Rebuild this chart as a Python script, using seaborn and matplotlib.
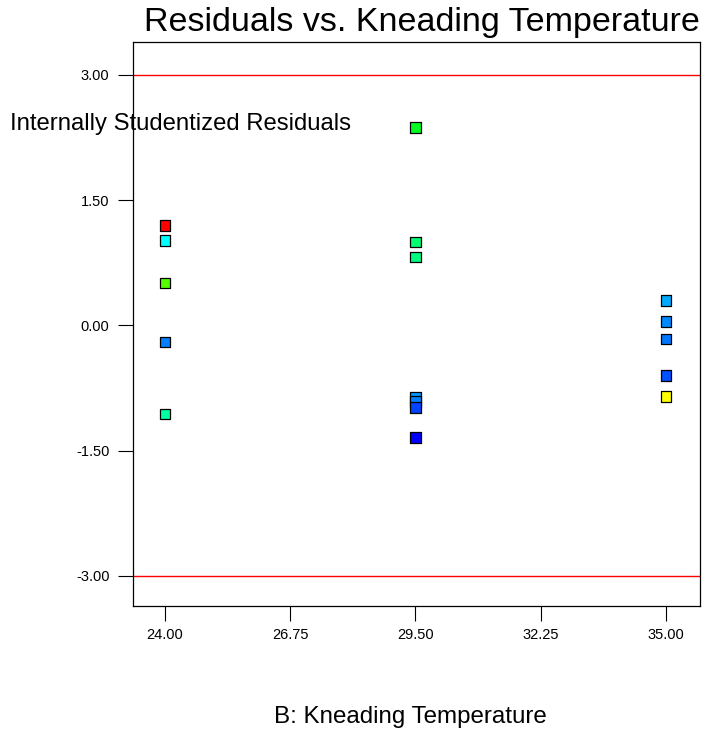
import matplotlib
matplotlib.use("Agg")
import matplotlib.pyplot as plt
import seaborn as sns
import pandas as pd

temperature = [24, 24, 24, 24, 24,
               29.5, 29.5, 29.5, 29.5, 29.5, 29.5, 29.5,
               35, 35, 35, 35, 35]
residuals = [1.20, 1.02, 0.51, -0.20, -1.06,
             2.37, 1.00, 0.82, -0.86, -0.91, -0.98, -1.34,
             0.30, 0.05, -0.16, -0.60, -0.85]
point_colors = ["#ff0000", "#00ffff", "#55ff00", "#0080ff", "#00ffa0",
                "#00ff20", "#00ff70", "#00ff80", "#0099ff", "#0080ff", "#0044ff", "#0000ff",
                "#00aaff", "#0088ff", "#0077ff", "#0050ff", "#ffff00"]
x_ticks = [24.00, 26.75, 29.50, 32.25, 35.00]
y_ticks = [-3.00, -1.50, 0.00, 1.50, 3.00]
limit_lines = [3.0, -3.0]

sns.set_style("white")
plt.rcParams['font.family'] = ['Liberation Sans', 'DejaVu Sans']
plt.rcParams['text.color'] = 'black'
plt.rcParams['xtick.color'] = 'black'
plt.rcParams['ytick.color'] = 'black'

df = pd.DataFrame({"temp": temperature, "res": residuals,
                   "run": [str(i) for i in range(len(residuals))]})

fig = plt.figure(figsize=(7.2, 7.31), dpi=100)
ax = fig.add_axes([133/720, 1 - 606/731, (700-133)/720, (606-42)/731])

for v in limit_lines:
    ax.axhline(v, color="#ff0000", linewidth=1.0, zorder=1)

sns.scatterplot(data=df, x="temp", y="res", hue="run", palette=point_colors,
                marker="s", s=58, edgecolor="black", linewidth=0.9,
                legend=False, ax=ax, zorder=3)

ax.set_xlim(23.3, 35.75)
ax.set_ylim(-3.36, 3.395)
ax.set_xticks(x_ticks)
ax.set_xticklabels([f"{t:.2f}" for t in x_ticks])
ax.set_yticks(y_ticks)
ax.set_yticklabels([f"{t:.2f}" for t in y_ticks])
ax.tick_params(axis="both", which="major", bottom=True, left=True,
               direction="out", length=11, width=0.8, color="black",
               labelcolor="black", labelsize=10.5, pad=5)
ax.tick_params(axis="y", pad=6)
for sp in ax.spines.values():
    sp.set_color("black")
    sp.set_linewidth(0.9)
ax.set_xlabel("")
ax.set_ylabel("")

fig.text(700/720, 1 - 22/731, "Residuals vs. Kneading Temperature",
         ha="right", va="center", fontsize=24.5, color="black")
fig.text(10/720, 1 - 124/731, "Internally Studentized Residuals",
         ha="left", va="center", fontsize=17.2, color="black")
fig.text(410/720, 1 - 717/731, "B: Kneading Temperature",
         ha="center", va="center", fontsize=17.4, color="black")

fig.savefig("out.png", dpi=100)
